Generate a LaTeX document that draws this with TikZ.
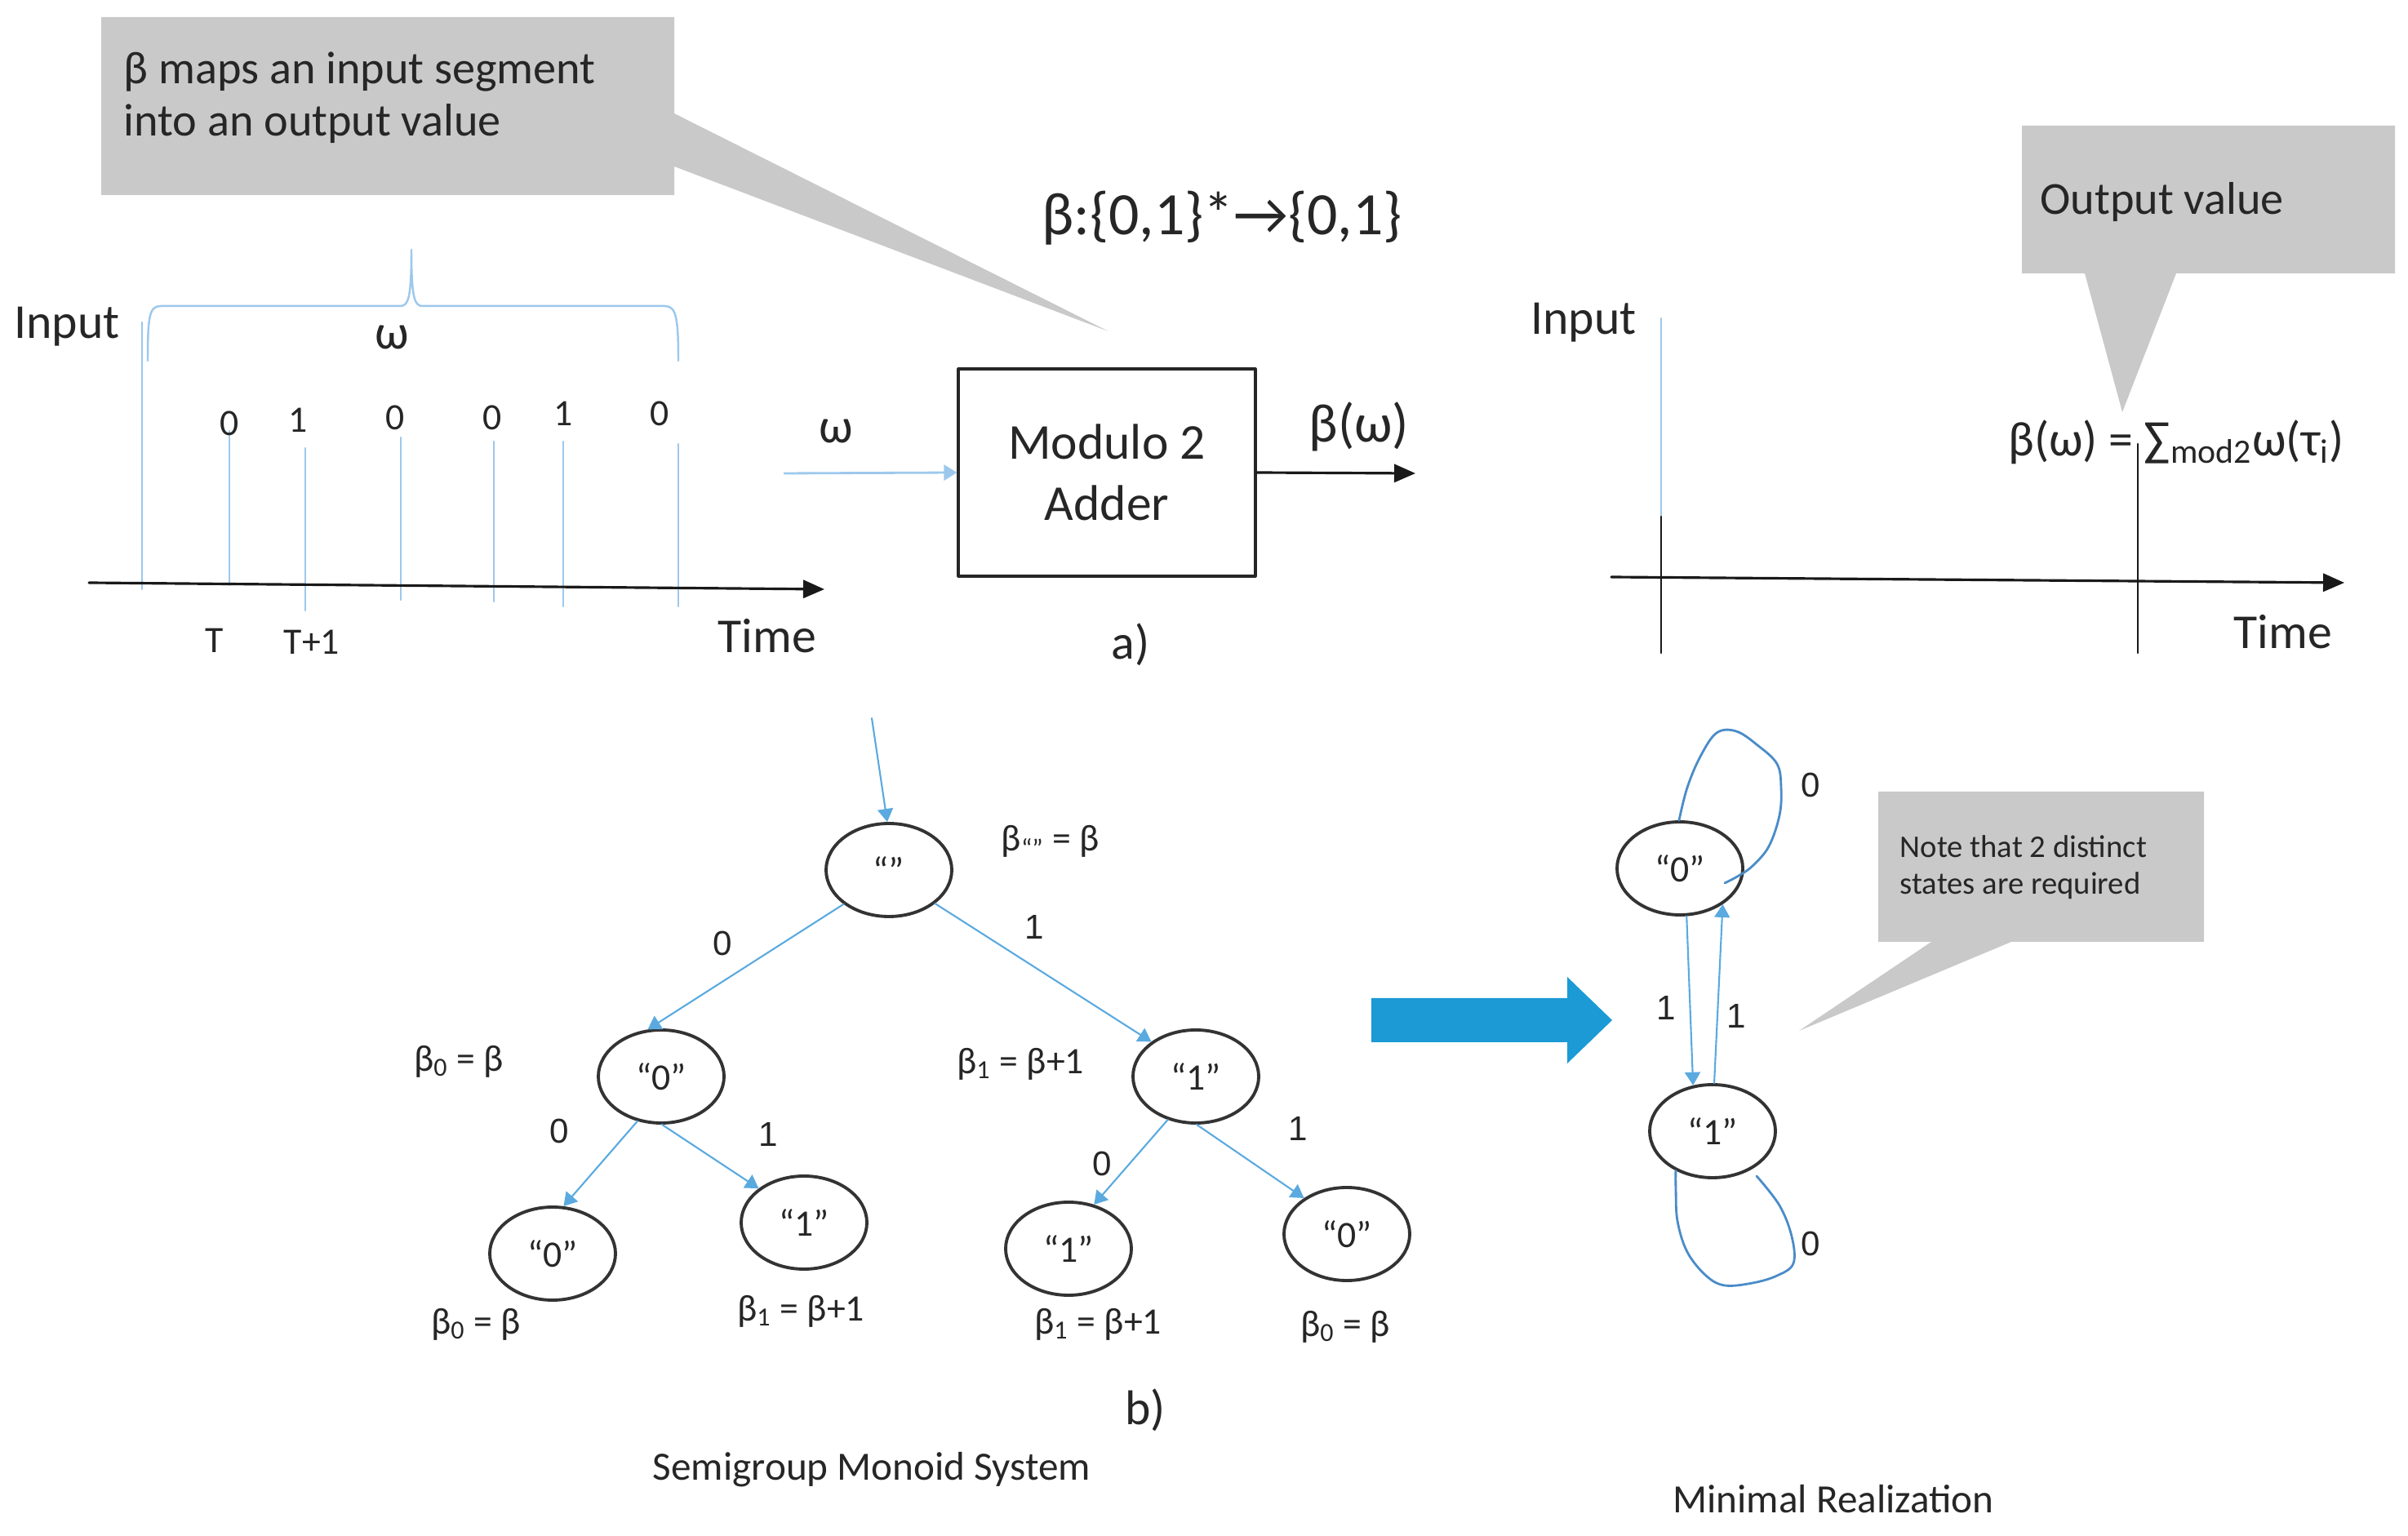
\documentclass[tikz,border=0pt]{standalone}
\usepackage{fontspec}
\setmainfont{Carlito}
\newfontfamily\arialfont{Liberation Sans}
\usetikzlibrary{arrows.meta,shapes.geometric}
\definecolor{sigblue}{HTML}{9DC8EC}
\definecolor{edgeblue}{HTML}{5AAAE0}
\definecolor{loopblue}{HTML}{4A8CC8}
\definecolor{bigblue}{HTML}{1B9AD6}
\begin{document}
\begin{tikzpicture}[>={Triangle[length=1.6mm,width=1.9mm]}, font=\fontsize{17}{20}\selectfont, text=black!85, inner sep=0pt, line join=round, line cap=round,
 sig/.style={sigblue, line width=0.7pt},
 edge/.style={edgeblue, line width=0.6pt, ->},
 axis/.style={black!90, line width=0.9pt, -{Triangle[length=2.6mm,width=2.2mm]}},
 state/.style={ellipse, draw=black!80, line width=1.1pt, minimum width=1.54cm, minimum height=1.14cm, font=\fontsize{13}{15}\selectfont},
 callout/.style={fill=black!21},
 small/.style={font=\fontsize{13}{15}\selectfont},
 digit/.style={font=\arialfont\fontsize{12}{14}\selectfont},
 loopline/.style={loopblue, line width=0.8pt}]
\useasboundingbox (0,0) rectangle (29.5,18.82);
\fill[callout] (1.24,18.61)--(8.26,18.61)--(8.26,17.43)--(13.58,14.76)--(8.26,16.78)--(8.26,16.43)--(1.24,16.43)--cycle;
\node[anchor=west, align=left, font=\fontsize{16}{18.2}\selectfont] (mapnote) at (1.51,17.62) {β maps an input segment\\into an output value};
\node (inA) at (0.82,14.82) {Input};
\draw[sig] (1.81,14.40) .. controls (1.81,14.95) and (1.83,15.07) .. (1.97,15.07) -- (4.90,15.07) .. controls (5.00,15.07) and (5.04,15.15) .. (5.04,15.76) .. controls (5.04,15.15) and (5.08,15.07) .. (5.18,15.07) -- (8.14,15.07) .. controls (8.28,15.07) and (8.31,14.95) .. (8.31,14.40);
\node (omA) at (4.80,14.69) {ω};
\foreach \x/\a/\b in {1.74/14.87/11.60, 2.81/13.54/11.65, 3.74/13.33/11.34, 4.91/13.46/11.47, 6.05/13.41/11.45, 6.90/13.41/11.39, 8.31/13.38/11.39}
  \draw[sig] (\x,\a)--(\x,\b);
\foreach \x/\y/\d [count=\i] in {2.81/13.63/0, 3.65/13.67/1, 4.84/13.70/0, 6.03/13.70/0, 6.90/13.75/1, 8.08/13.75/0}
  \node[small] (bit\i) at (\x,\y) {\d};
\coordinate (tA0) at (1.09,11.68);
\coordinate (tA1) at (10.10,11.60);
\draw[axis] (tA0)--(tA1);
\node[small] (tT) at (2.63,10.97) {T};
\node[small] (tT1) at (3.82,10.95) {T+1};
\node (timeA) at (9.40,11.03) {Time};
\node[draw=black!85, line width=0.9pt, minimum width=3.64cm, minimum height=2.54cm, align=center, font=\fontsize{17.5}{21.3}\selectfont] (adder) at (13.56,13.03) {Modulo 2\\Adder};
\coordinate (win) at (9.61,13.02);
\coordinate (wout) at (17.34,13.02);
\draw[sigblue, line width=0.8pt, ->] (win)--(adder.west);
\draw[axis] (adder.east)--(wout);
\node (omB) at (10.24,13.54) {ω};
\node[font=\fontsize{19}{22}\selectfont] (bout) at (16.65,13.59) {β(ω)};
\node[font=\fontsize{21}{24}\selectfont] (sigmap) at (14.97,16.15) {β:\{0,1\}*→\{0,1\}};
\node (capA) at (13.85,10.92) {a)};
\node (inB) at (19.40,14.87) {Input};
\draw[sig] (20.35,14.92)--(20.35,12.49);
\draw[black!90, line width=0.8pt] (20.35,12.49)--(20.35,10.82);
\coordinate (tB0) at (19.74,11.75);
\coordinate (tB1) at (28.72,11.68);
\draw[axis] (tB0)--(tB1);
\draw[black!90, line width=0.8pt] (26.19,13.38)--(26.19,10.82);
\node (sumB) at (26.66,13.40) {β(ω) = ∑\textsubscript{mod2}ω(τ\textsubscript{i})};
\node (timeB) at (27.97,11.08) {Time};
\fill[callout] (24.77,17.28)--(29.34,17.28)--(29.34,15.47)--(26.66,15.47)--(26.00,13.77)--(25.54,15.47)--(24.77,15.47)--cycle;
\node[anchor=west, font=\fontsize{16}{19}\selectfont] (outnote) at (24.99,16.34) {Output value};
\node[state] (root) at (10.89,8.16) {“”};
\node[state] (n0) at (8.10,5.63) {“0”};
\node[state] (n1) at (14.65,5.63) {“1”};
\node[state] (n00) at (6.77,3.46) {“0”};
\node[state] (n01) at (9.85,3.84) {“1”};
\node[state] (n10) at (13.09,3.52) {“1”};
\node[state] (n11) at (16.50,3.70) {“0”};
\coordinate (start) at (10.68,10.02);
\draw[edge] (start)--(root.92);
\draw[edge] (root.217)--(n0.106);
\draw[edge] (root.324)--(n1.142);
\draw[edge] (n0.242)--(n00.77);
\draw[edge] (n0.271)--(n01.143);
\draw[edge] (n1.237)--(n10.60);
\draw[edge] (n1.271)--(n11.140);
\node[digit] (e0) at (8.85,7.26) {0};
\node[digit] (e1) at (12.67,7.46) {1};
\node[digit] (e00) at (6.85,4.96) {0};
\node[digit] (e01) at (9.41,4.92) {1};
\node[digit] (e10) at (13.50,4.56) {0};
\node[digit] (e11) at (15.90,4.99) {1};
\node[small] (broot) at (12.87,8.51) {β\textsubscript{“”} = β};
\node[small] (bn0) at (5.62,5.81) {β\textsubscript{0} = β};
\node[small] (bn1) at (12.50,5.78) {β\textsubscript{1} = β+1};
\node[small] (bn00) at (5.83,2.59) {β\textsubscript{0} = β};
\node[small] (bn01) at (9.81,2.75) {β\textsubscript{1} = β+1};
\node[small] (bn10) at (13.45,2.59) {β\textsubscript{1} = β+1};
\node[small] (bn11) at (16.48,2.56) {β\textsubscript{0} = β};
\node (capB) at (14.03,1.54) {b)};
\node[font=\fontsize{14}{17}\selectfont] (semi) at (10.68,0.81) {Semigroup Monoid System};
\fill[bigblue] (16.80,6.59)--(19.20,6.59)--(19.20,6.85)--(19.75,6.32)--(19.20,5.79)--(19.20,6.05)--(16.80,6.05)--cycle;
\node[state] (m0) at (20.58,8.18) {“0”};
\node[state] (m1) at (20.98,4.96) {“1”};
\draw[edge] (m0.278)--(m1.113);
\draw[edge] (m1.88)--(m0.320);
\node[digit] (l01) at (20.41,6.47) {1};
\node[digit] (l10) at (21.27,6.37) {1};
\draw[loopline] plot[smooth, tension=0.6] coordinates {(m0.91) (20.67,9.17) (20.83,9.55) (21.03,9.84) (21.27,9.86) (21.53,9.69) (21.77,9.46) (21.82,9.17) (21.80,8.83) (21.67,8.45) (21.47,8.21) (21.30,8.09) (21.13,8.00)};
\draw[loopline] plot[smooth, tension=0.6] coordinates {(m1.227) (20.53,4.24) (20.55,3.86) (20.67,3.48) (20.90,3.19) (21.13,3.07) (21.47,3.10) (21.77,3.19) (21.97,3.34) (21.95,3.67) (21.80,4.05) (21.52,4.41)};
\node[digit] (z0) at (22.18,9.20) {0};
\node[digit] (z1) at (22.18,3.58) {0};
\fill[callout] (23.01,9.12)--(27.00,9.12)--(27.00,7.28)--(24.64,7.28)--(22.04,6.19)--(23.66,7.28)--(23.01,7.28)--cycle;
\node[anchor=west, align=left, font=\fontsize{11}{12.8}\selectfont] (note) at (23.27,8.19) {Note that 2 distinct\\states are required};
\node[font=\fontsize{14}{17}\selectfont] (minr) at (22.46,0.45) {Minimal Realization};
\end{tikzpicture}
\end{document}
